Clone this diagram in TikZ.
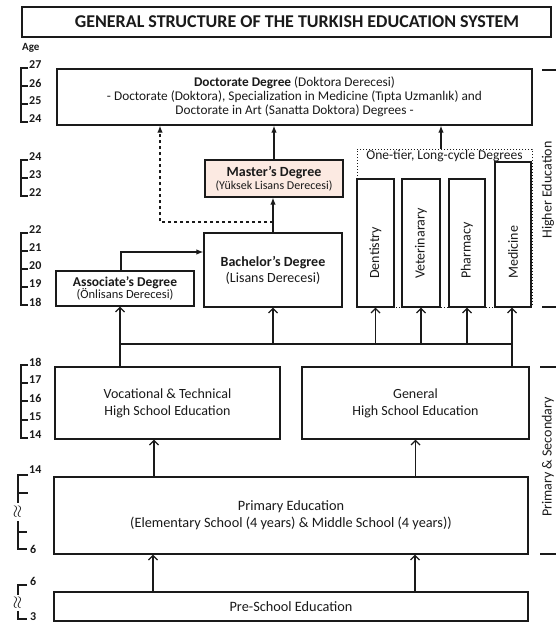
\documentclass[tikz,border=0pt]{standalone}
\usepackage{fontspec}
\setmainfont{Carlito}
\usetikzlibrary{arrows.meta}
\definecolor{mpink}{HTML}{FCEAE2}
\definecolor{ink}{HTML}{1A1A1A}
\newcommand{\fs}[1]{\fontsize{#1pt}{\dimexpr #1pt*6/5\relax}\selectfont}
\begin{document}
\begin{tikzpicture}[x=1pt,y=-1pt,
  box/.style={draw=ink, line width=1.3pt, inner sep=0pt, align=center, fill=white, text=ink},
  farr/.style={-{Latex[length=7pt,width=5.5pt]}, line width=1.2pt, draw=ink},
  oarr/.style={-{Straight Barb[length=4.5pt,width=9pt]}, line width=1.2pt, draw=ink},
  ln/.style={line width=1.2pt, draw=ink},
  sc/.style={line width=1.1pt, draw=ink},
  agel/.style={anchor=west, inner sep=0pt, font=\fs{12}\bfseries, text=ink},
  vtxt/.style={rotate=90, anchor=west, inner sep=0pt, font=\fs{14}, text=ink},
]
\useasboundingbox (0,0) rectangle (556,623);

% title
\node[box, minimum width=529pt, minimum height=30pt] (title) at (286.5,22) {};
\node[inner sep=0pt, font=\fs{18}\bfseries, text=ink] (titletext) at (297,22)
  {GENERAL STRUCTURE OF THE TURKISH EDUCATION SYSTEM};
\node[anchor=west, inner sep=0pt, font=\fs{11}\bfseries, text=ink] (age) at (22,48) {Age};

% doctorate
\node[box, minimum width=475pt, minimum height=56pt, font=\fs{13.3}] (doc) at (294.5,97)
  {\textbf{Doctorate Degree} (Doktora Derecesi)\\[-2pt]
   - Doctorate (Doktora), Specialization in Medicine (Tıpta Uzmanlık) and\\[-2pt]
   Doctorate in Art (Sanatta Doktora) Degrees -};

% master
\node[box, fill=mpink, minimum width=138pt, minimum height=37pt, font=\fs{14}] (mas) at (274,178.5)
  {\textbf{Master’s Degree}\\[-4pt]{\fs{12}(Yüksek Lisans Derecesi)}};

% bachelor
\node[box, minimum width=138pt, minimum height=74pt, font=\fs{14}] (bach) at (273,270)
  {\textbf{Bachelor’s Degree}\\[-1pt](Lisans Derecesi)};

% associate
\node[box, minimum width=138pt, minimum height=35pt, font=\fs{13.5}] (asso) at (125,288.5)
  {\textbf{Associate’s Degree}\\[-4pt]{\fs{12.5}(Önlisans Derecesi)}};

% one-tier frame
\node[draw=ink, dotted, line width=1pt, minimum width=175pt, minimum height=158pt, inner sep=0pt] (one) at (444.5,228) {};
\node[anchor=north, inner sep=0pt, font=\fs{13.5}, text=ink] (onel) at (444.5,150) {One-tier, Long-cycle Degrees};

\node[box, minimum width=37pt, minimum height=128pt] (dent) at (375.5,243) {};
\node[vtxt] (dentt) at (dent.center |- 0,279) {Dentistry};
\node[box, minimum width=38pt, minimum height=128pt] (vet) at (421,243) {};
\node[vtxt] (vett) at (vet.center |- 0,279) {Veterinarary};
\node[box, minimum width=36pt, minimum height=128pt] (pha) at (467,243) {};
\node[vtxt] (phat) at (pha.center |- 0,279) {Pharmacy};
\node[box, minimum width=36pt, minimum height=145pt] (med) at (513,234.5) {};
\node[vtxt] (medt) at (med.center |- 0,279) {Medicine};

% high schools
\node[box, minimum width=225pt, minimum height=72pt, font=\fs{14}] (voc) at (167.5,403)
  {Vocational \& Technical\\High School Education};
\node[box, minimum width=227pt, minimum height=72pt, font=\fs{14}] (gen) at (415.5,403)
  {General\\High School Education};

% primary / preschool
\node[box, minimum width=474pt, minimum height=77pt, font=\fs{14.3}] (prim) at (291,515.5)
  {Primary Education\\(Elementary School (4 years) \& Middle School (4 years))};
\node[box, minimum width=474pt, minimum height=29pt, font=\fs{14.3}] (pre) at (291,606.5)
  {Pre-School Education};

% connectors (higher education)
\draw[farr] (mas.north) -- (mas.north |- doc.south);
\draw[farr] (bach.north) -- (bach.north |- mas.south);
\coordinate (dj) at (273,222);
\coordinate (dc) at (160,222);
\draw[farr, dashed] (dj) -- (dc) -- (dc |- doc.south);
\coordinate (oc) at (441,149);
\draw[farr] (oc) -- (oc |- doc.south);
\coordinate (ab) at (121,252);
\draw[farr] (asso.north -| ab) -- (ab) -- (ab -| bach.west);

% bus
\coordinate (busL) at (120,344);
\coordinate (busR) at (512,344);
\draw[ln] (voc.north -| busL) -- (busL) -- (busR) -- (gen.north -| busR);
\draw[oarr] (busL) -- (asso.south -| busL);
\draw[oarr] (bach.south |- busL) -- (bach.south);
\draw[oarr] (dent.south |- busL) -- (dent.south);
\draw[oarr] (vet.south |- busL) -- (vet.south);
\draw[oarr] (pha.south |- busL) -- (pha.south);
\draw[oarr] (busR) -- (med.south -| busR);

% primary -> high schools
\coordinate (c1) at (154,0);
\draw[oarr] (prim.north -| c1) -- (voc.south -| c1);
\draw[oarr] (gen.south |- prim.north) -- (gen.south);
\coordinate (c2) at (153,0);
\coordinate (c3) at (415,0);
\draw[oarr] (pre.north -| c2) -- (prim.south -| c2);
\draw[oarr] (pre.north -| c3) -- (prim.south -| c3);

% age scales
\draw[sc] (28,68) -- (21,68) -- (21,122) -- (28,122);
\foreach \y in {86,104} \draw[sc] (21,\y) -- (28,\y);
\foreach \y/\t in {68/27,86/26,104/25,122/24} \node[agel] at (29,\y-3) {\t};

\draw[sc] (28,160) -- (21,160) -- (21,196) -- (28,196);
\draw[sc] (21,178) -- (28,178);
\foreach \y/\t in {160/24,178/23,196/22} \node[agel] at (29,\y-3) {\t};

\draw[sc] (28,233) -- (21,233) -- (21,305) -- (28,305);
\foreach \y in {251,269,287} \draw[sc] (21,\y) -- (28,\y);
\foreach \y/\t in {233/22,251/21,269/20,287/19,305/18} \node[agel] at (29,\y-3) {\t};

\draw[sc] (28,365) -- (21,365) -- (21,438) -- (28,438);
\foreach \y in {383,401,420} \draw[sc] (21,\y) -- (28,\y);
\foreach \y/\t in {365/18,383/17,401/16,420/15,438/14} \node[agel] at (29,\y-3) {\t};

\draw[sc] (28,475) -- (18,475) -- (18,503);
\draw[sc] (18,493) -- (28,493);
\node[rotate=90, inner sep=0pt, font=\fs{16}, text=ink] at (18,512) {$\approx$};
\draw[sc] (18,521) -- (18,549) -- (27,549);
\draw[sc] (18,532) -- (27,532);
\node[agel] at (29,470) {14};
\node[agel] at (30,549) {6};

\draw[sc] (27,585) -- (18,585) -- (18,595);
\node[rotate=90, inner sep=0pt, font=\fs{16}, text=ink] at (18,603) {$\approx$};
\draw[sc] (18,611) -- (18,619) -- (27,619);
\node[agel] at (30,581) {6};
\node[agel] at (30,617) {3};

% right brackets
\draw[sc] (542,70) -- (560,70);
\draw[sc] (542,307) -- (560,307);
\node[rotate=90, font=\fs{14}, text=ink, inner sep=0pt] (he) at (548,190) {Higher Education};
\draw[sc] (540,367) -- (560,367);
\draw[sc] (540,554) -- (560,554);
\node[rotate=90, font=\fs{14}, text=ink, inner sep=0pt] (ps) at (548,457) {Primary \& Secondary};
\end{tikzpicture}
\end{document}
